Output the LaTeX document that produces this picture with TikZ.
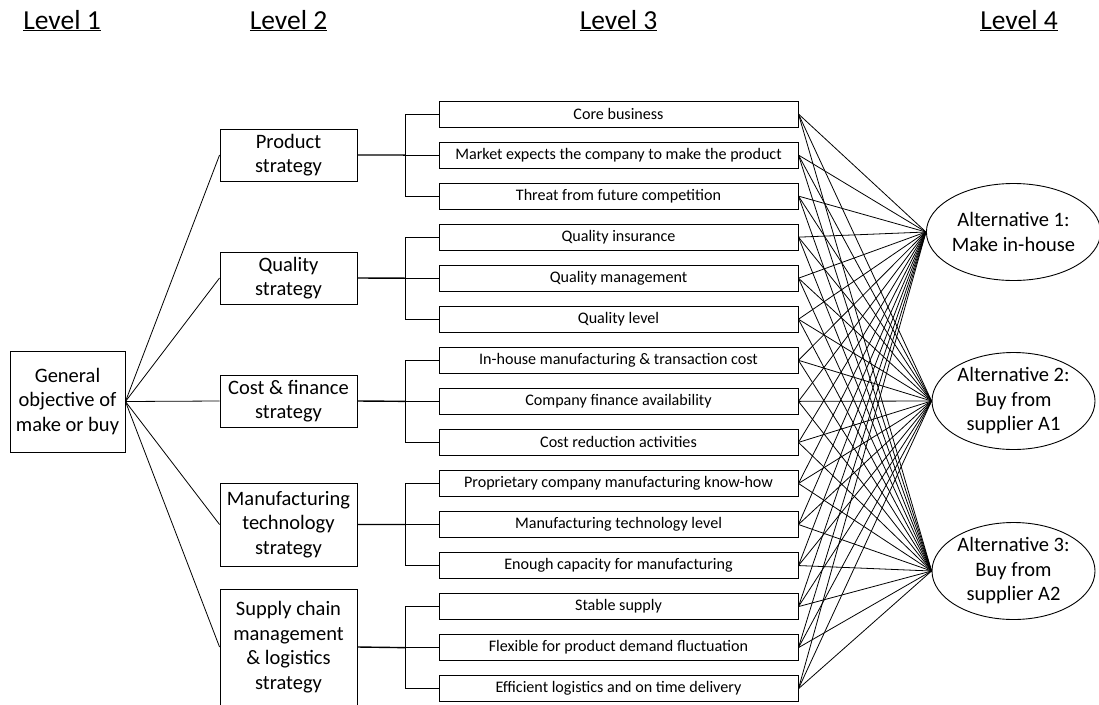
\documentclass[tikz,border=0pt]{standalone}
\usepackage{fontspec}
\setmainfont{Carlito}
\usetikzlibrary{shapes.geometric}
\begin{document}
\begin{tikzpicture}[x=1pt,y=-1pt,
  every path/.style={line width=0.8pt},
  levellabel/.style={anchor=base, inner sep=0pt, font=\fontsize{27.5}{32}\selectfont},
  rootbox/.style={draw, line width=0.9pt, align=center, inner sep=0pt,
    minimum width=115, minimum height=101, font=\fontsize{20.5}{24.5}\selectfont},
  groupbox/.style={draw, line width=0.9pt, align=center, inner sep=0pt,
    minimum width=137, font=\fontsize{20.5}{24.5}\selectfont},
  leafbox/.style={draw, line width=0.9pt, inner sep=0pt,
    minimum width=359, minimum height=26, font=\fontsize{16.1}{19}\selectfont},
  altnode/.style={draw, ellipse, line width=0.9pt, align=center, inner sep=0pt,
    minimum width=163, minimum height=97, font=\fontsize{20.5}{24.5}\selectfont},
  wire/.style={line width=0.8pt},
  stem/.style={line width=1.4pt}
]
\useasboundingbox (0,0) rectangle (1099,704);

% column headings
\node[levellabel] (h1) at (62,29)     {\underline{Level 1}};
\node[levellabel] (h2) at (288.5,29)  {\underline{Level 2}};
\node[levellabel] (h3) at (618.5,29)  {\underline{Level 3}};
\node[levellabel] (h4) at (1019,29)   {\underline{Level 4}};

% level 1
\node[rootbox] (root) at (67.5,401.5) {General\\objective of\\make or buy};

% level 2
\node[groupbox, minimum height=52]  (g1) at (288.5,155)   {Product\\strategy};
\node[groupbox, minimum height=52]  (g2) at (288.5,278)   {Quality\\strategy};
\node[groupbox, minimum height=52]  (g3) at (288.5,401)   {Cost \& finance\\strategy};
\node[groupbox, minimum height=83]  (g4) at (288.5,524.5) {Manufacturing\\technology\\strategy};
\node[groupbox, minimum height=116] (g5) at (288.5,647)   {Supply chain\\management\\\& logistics\\strategy};

% level 3
\foreach \i/\t in {
  1/Core business,
  2/Market expects the company to make the product,
  3/Threat from future competition,
  4/Quality insurance,
  5/Quality management,
  6/Quality level,
  7/In-house manufacturing \& transaction cost,
  8/Company finance availability,
  9/Cost reduction activities,
  10/Proprietary company manufacturing know-how,
  11/Manufacturing technology level,
  12/Enough capacity for manufacturing,
  13/Stable supply,
  14/Flexible for product demand fluctuation,
  15/Efficient logistics and on time delivery}
{
  \node[leafbox] (l3-\i) at (618.5,{114+41.05*(\i-1)}) {\t};
}

% level 4
\node[altnode] (alt1) at (1013.5,232) {Alternative 1:\\Make in-house};
\node[altnode] (alt2) at (1013.5,401) {Alternative 2:\\Buy from\\supplier A1};
\node[altnode] (alt3) at (1013.5,571) {Alternative 3:\\Buy from\\supplier A2};

% level 1 to level 2
\foreach \g in {1,...,5} {
  \draw[wire] (root.east) -- (g\g.west);
}

% level 2 to level 3 brackets
\foreach \g in {1,...,5} {
  \pgfmathtruncatemacro\ra{3*\g-2}
  \pgfmathtruncatemacro\rb{3*\g-1}
  \pgfmathtruncatemacro\rc{3*\g}
  \path (l3-\rb.west) ++(-33,0) coordinate (k\g);
  \draw[stem] (g\g.east) -- (k\g);
  \draw[wire] (l3-\ra.west) -| (k\g) |- (l3-\rc.west);
  \draw[wire] (k\g) -- (l3-\rb.west);
}

% level 3 to level 4
\foreach \i in {1,...,15} {
  \foreach \k in {1,2,3} {
    \draw[wire] (l3-\i.east) -- (alt\k.west);
  }
}
\end{tikzpicture}
\end{document}
